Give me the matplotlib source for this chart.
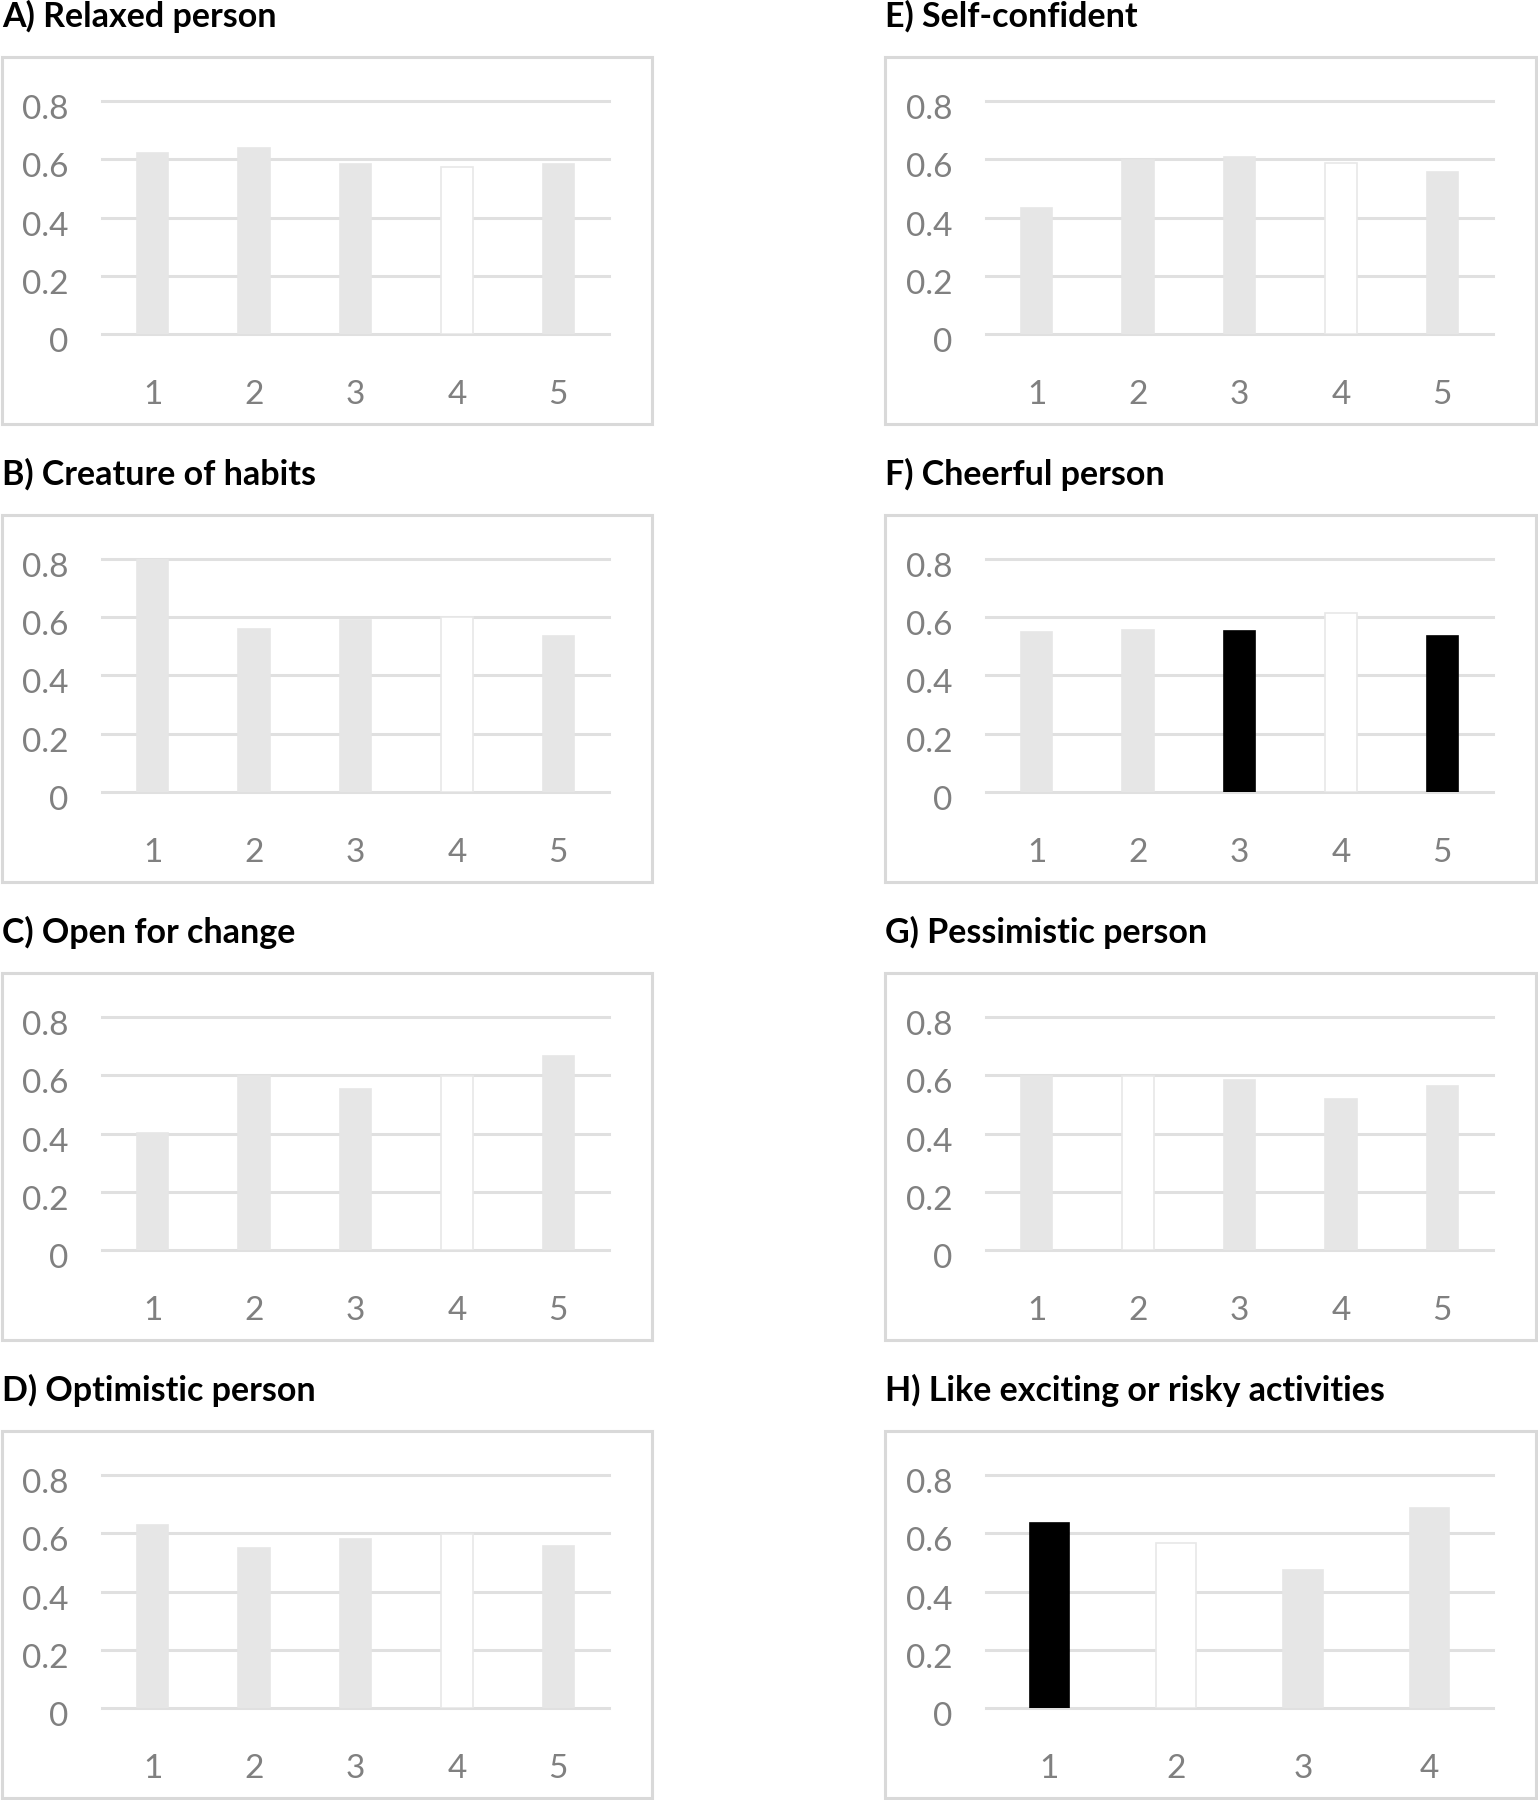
import matplotlib
matplotlib.use("Agg")
import matplotlib.pyplot as plt
from matplotlib.patches import Rectangle
from matplotlib.transforms import ScaledTranslation

plt.rcParams["font.family"] = ["Lato", "DejaVu Sans"]

# panel titles, in reading order (left column top-down, then right column)
titles = [
    "A) Relaxed person",
    "B) Creature of habits",
    "C) Open for change",
    "D) Optimistic person",
    "E) Self-confident",
    "F) Cheerful person",
    "G) Pessimistic person",
    "H) Like exciting or risky activities",
]

relaxed = [0.62, 0.638, 0.582, 0.572, 0.583]
habits = [0.80, 0.56, 0.59, 0.60, 0.536]
open_change = [0.402, 0.599, 0.552, 0.599, 0.666]
optimistic = [0.627, 0.548, 0.579, 0.599, 0.556]
self_conf = [0.433, 0.599, 0.607, 0.587, 0.556]
cheerful = [0.55, 0.557, 0.552, 0.616, 0.534]
pessimistic = [0.599, 0.599, 0.583, 0.52, 0.563]
risky = [0.635, 0.567, 0.474, 0.685]

# bar fill keys: g = light grey, w = white, k = black
shades = [
    "gggwg",
    "gggwg",
    "gggwg",
    "gggwg",
    "gggwg",
    "ggkwk",
    "gwggg",
    "kwgg",
]
series = [relaxed, habits, open_change, optimistic,
          self_conf, cheerful, pessimistic, risky]

fill = {"g": "#e6e6e6", "w": "#ffffff", "k": "#000000"}
edge = {"g": "#e6e6e6", "w": "#e8e8e8", "k": "#000000"}
GRID = "#e0e0e0"
TICK = "#808080"

W, H = 1538, 1800
fig = plt.figure(figsize=(W / 100, H / 100), dpi=100)

col_frame_x = [(2, 652), (885, 1536)]
col_axes_x = [(102, 609), (986, 1493)]
row_step = 458
frame_top0, frame_bot0 = 57, 424
ax_top0, ax_bot0 = 101, 334

for i, (title, vals, sh) in enumerate(zip(titles, series, shades)):
    col, row = divmod(i, 4)
    dy = row * row_step
    fx0, fx1 = col_frame_x[col]
    ax0, ax1 = col_axes_x[col]

    # outer frame around each chart
    fig.add_artist(Rectangle(
        (fx0 / W, 1 - (frame_bot0 + dy) / H),
        (fx1 - fx0) / W, (frame_bot0 - frame_top0) / H,
        transform=fig.transFigure, fill=False, edgecolor="#d9d9d9", linewidth=2.2))

    fig.text(fx0 / W, 1 - (16 + dy) / H, title, fontsize=24.5, fontweight="bold",
             ha="left", va="center", color="black")

    ax = fig.add_axes([ax0 / W, 1 - (ax_bot0 + dy) / H,
                       (ax1 - ax0) / W, (ax_bot0 - ax_top0) / H])
    n = len(vals)
    xs = list(range(1, n + 1))
    ax.bar(xs, vals, width=0.31,
           color=[fill[c] for c in sh], edgecolor=[edge[c] for c in sh],
           linewidth=1.2, zorder=3)
    ax.set_xlim(0.5, n + 0.5)
    ax.set_ylim(0, 0.8)
    ax.set_yticks([0, 0.2, 0.4, 0.6, 0.8])
    ax.set_yticklabels(["0", "0.2", "0.4", "0.6", "0.8"])
    ax.set_xticks(xs)
    ax.set_xticklabels([str(x) for x in xs])
    for y in [0, 0.2, 0.4, 0.6, 0.8]:
        ax.axhline(y, color=GRID, linewidth=2.2, zorder=1, clip_on=False)
    for s in ax.spines.values():
        s.set_visible(False)
    ax.tick_params(axis="both", length=0, colors=TICK, labelsize=24)
    ax.tick_params(axis="y", pad=24)
    ax.tick_params(axis="x", pad=33)
    # Excel-style: value labels sit slightly below their gridline
    shift = ScaledTranslation(0, -6 / 100, fig.dpi_scale_trans)
    for lab in ax.get_yticklabels():
        lab.set_transform(lab.get_transform() + shift)

fig.savefig("out.png", dpi=100, facecolor="white")
